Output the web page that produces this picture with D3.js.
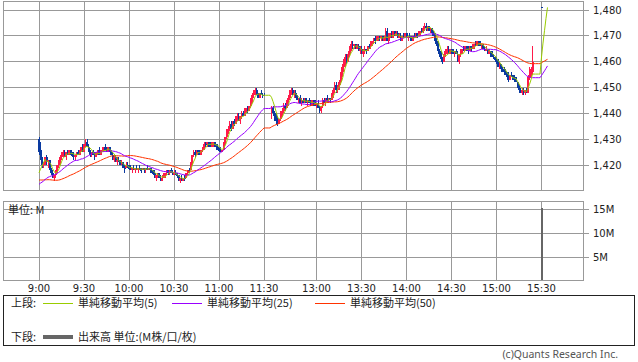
<!DOCTYPE html>
<html>
<head>
<meta charset="utf-8">
<script src="https://cdn.jsdelivr.net/npm/d3@7"></script>
<style>
  body { margin: 0; background: #fff; }
  svg text { font-family: "DejaVu Sans", sans-serif; font-size: 10px; fill: #222; }
  svg text.jp { font-family: "Noto Sans CJK JP", sans-serif; font-size: 11px; }
</style>
</head>
<body>
<div id="chart"></div>
<script>
// 1-minute bars, morning session 9:00-11:30
var amOpen = [
  1430,1426,1422,1420,1421,1423,1421,1422,1418,1417,
  1415,1416,1418,1420,1421,1423,1424,1425,1423,1425,
  1424,1426,1424,1424,1423,1424,1425,1424,1426,1427,
  1425,1428,1429,1427,1425,1424,1425,1424,1423,1425,
  1426,1424,1425,1426,1427,1426,1425,1427,1426,1424,
  1422,1423,1421,1422,1421,1420,1421,1419,1419,1420,
  1419,1419,1418,1419,1418,1419,1418,1419,1418,1418,
  1419,1418,1419,1418,1419,1418,1417,1417,1415,1416,
  1417,1415,1414,1415,1416,1417,1418,1417,1418,1417,
  1416,1417,1416,1416,1414,1415,1414,1415,1415,1417,
  1418,1418,1421,1424,1425,1424,1426,1425,1424,1426,
  1427,1428,1428,1429,1428,1427,1428,1429,1428,1427,
  1426,1426,1425,1426,1429,1431,1433,1434,1436,1434,
  1437,1436,1438,1439,1437,1439,1440,1439,1441,1442,
  1441,1443,1445,1447,1448,1449,1447,1446,1448,1447,
  1447
];
var amHigh = [
  1431,1429,1423,1421,1423,1424,1422,1422,1419,1418,
  1416,1418,1420,1422,1424,1425,1426,1426,1425,1426,
  1426,1426,1425,1425,1424,1425,1426,1426,1427,1428,
  1428,1430,1430,1428,1426,1425,1426,1425,1425,1426,
  1427,1426,1427,1427,1428,1427,1427,1427,1426,1425,
  1424,1424,1423,1423,1422,1422,1421,1420,1421,1421,
  1420,1420,1419,1420,1419,1420,1419,1420,1419,1419,
  1419,1419,1420,1419,1419,1419,1418,1418,1416,1417,
  1417,1416,1416,1417,1417,1418,1418,1418,1419,1418,
  1418,1418,1417,1416,1415,1416,1415,1416,1417,1418,
  1419,1421,1424,1426,1426,1426,1426,1426,1426,1427,
  1429,1429,1429,1429,1429,1429,1429,1429,1428,1428,
  1427,1427,1426,1429,1431,1434,1435,1437,1437,1437,
  1438,1439,1440,1440,1439,1441,1441,1442,1442,1443,
  1443,1446,1448,1449,1450,1450,1448,1448,1449,1448,
  1448
];
var amLow = [
  1424,1422,1419,1419,1420,1420,1419,1418,1416,1415,
  1414,1415,1417,1419,1420,1422,1423,1423,1422,1424,
  1424,1424,1423,1422,1422,1423,1424,1424,1425,1425,
  1425,1427,1427,1425,1423,1423,1424,1422,1423,1424,
  1424,1424,1425,1425,1426,1425,1425,1425,1424,1422,
  1421,1421,1420,1421,1420,1420,1419,1417,1419,1419,
  1418,1418,1417,1418,1417,1418,1417,1418,1417,1418,
  1417,1417,1418,1418,1417,1417,1416,1415,1414,1415,
  1415,1414,1414,1415,1415,1416,1416,1416,1417,1416,
  1416,1416,1415,1414,1413,1414,1414,1414,1415,1416,
  1417,1418,1420,1423,1423,1424,1424,1424,1424,1425,
  1426,1427,1427,1427,1427,1427,1427,1427,1426,1426,
  1425,1425,1425,1426,1428,1430,1432,1433,1433,1434,
  1435,1436,1437,1437,1436,1438,1439,1439,1440,1440,
  1441,1442,1444,1446,1447,1447,1446,1446,1447,1446,
  1447
];
var amClose = [
  1425,1422,1420,1421,1423,1421,1422,1418,1417,1415,
  1416,1418,1420,1421,1423,1424,1425,1423,1425,1424,
  1426,1424,1424,1423,1424,1425,1424,1426,1427,1425,
  1428,1429,1427,1425,1424,1425,1424,1423,1425,1426,
  1424,1425,1426,1427,1426,1425,1427,1426,1424,1422,
  1423,1421,1422,1421,1420,1421,1419,1419,1420,1419,
  1419,1418,1419,1418,1419,1418,1419,1418,1418,1419,
  1418,1419,1418,1419,1418,1417,1417,1415,1416,1417,
  1415,1414,1415,1416,1417,1418,1417,1418,1417,1416,
  1417,1416,1416,1414,1415,1414,1415,1415,1417,1418,
  1418,1421,1424,1425,1424,1426,1425,1424,1426,1427,
  1428,1428,1429,1428,1427,1428,1429,1428,1427,1426,
  1426,1425,1426,1429,1431,1433,1434,1436,1434,1437,
  1436,1438,1439,1437,1439,1440,1439,1441,1442,1441,
  1443,1445,1447,1448,1449,1447,1446,1448,1447,1447,
  1447
];

// 1-minute bars, afternoon session 12:30-15:24
var pmOpen = [
  1440,1442,1440,1438,1437,1436,1438,1440,1441,1443,
  1442,1444,1446,1448,1449,1447,1448,1446,1445,1446,
  1444,1445,1444,1446,1444,1445,1444,1443,1445,1444,
  1443,1444,1442,1441,1443,1445,1444,1446,1445,1446,
  1445,1447,1449,1451,1449,1450,1452,1455,1458,1460,
  1462,1460,1463,1465,1467,1466,1467,1465,1466,1464,
  1465,1463,1464,1465,1464,1466,1466,1467,1468,1469,
  1468,1469,1470,1469,1470,1468,1469,1472,1468,1470,
  1471,1469,1472,1470,1471,1469,1470,1468,1470,1469,
  1471,1469,1470,1469,1468,1470,1469,1471,1470,1471,
  1472,1472,1473,1474,1473,1474,1472,1473,1471,1471,
  1468,1467,1464,1463,1461,1460,1463,1464,1465,1463,
  1465,1464,1463,1464,1463,1460,1463,1464,1465,1464,
  1466,1465,1464,1466,1465,1466,1467,1466,1468,1467,
  1466,1467,1465,1464,1465,1463,1464,1463,1462,1461,
  1461,1460,1458,1459,1457,1457,1456,1455,1455,1453,
  1455,1454,1454,1453,1452,1450,1449,1448,1449,1448,
  1449,1448,1454,1455,1456
];
var pmHigh = [
  1443,1443,1441,1440,1439,1438,1441,1442,1444,1444,
  1445,1447,1449,1450,1450,1449,1449,1447,1446,1447,
  1446,1446,1446,1446,1445,1446,1445,1445,1445,1445,
  1444,1445,1443,1443,1446,1446,1446,1447,1446,1446,
  1448,1450,1452,1452,1451,1453,1456,1459,1461,1463,
  1463,1464,1466,1468,1468,1467,1467,1467,1467,1466,
  1466,1465,1466,1465,1466,1467,1468,1468,1469,1470,
  1470,1470,1470,1470,1470,1470,1473,1473,1471,1471,
  1472,1472,1472,1472,1472,1471,1471,1470,1471,1471,
  1471,1470,1471,1470,1470,1471,1471,1471,1472,1472,
  1473,1474,1475,1475,1474,1474,1473,1473,1472,1471,
  1469,1468,1465,1464,1462,1464,1465,1466,1466,1465,
  1465,1465,1464,1465,1464,1463,1465,1465,1466,1466,
  1466,1466,1466,1466,1467,1467,1468,1468,1468,1468,
  1467,1467,1466,1466,1465,1465,1464,1464,1463,1462,
  1462,1461,1460,1459,1458,1458,1457,1456,1456,1455,
  1456,1455,1455,1454,1452,1451,1450,1450,1450,1449,
  1450,1455,1458,1458,1466
];
var pmLow = [
  1438,1439,1437,1436,1435,1436,1437,1439,1440,1441,
  1442,1443,1445,1447,1447,1446,1446,1445,1444,1444,
  1443,1444,1444,1444,1443,1444,1443,1443,1443,1443,
  1442,1442,1440,1440,1442,1444,1443,1444,1444,1444,
  1445,1446,1448,1448,1448,1449,1451,1454,1456,1458,
  1459,1460,1462,1464,1465,1465,1465,1465,1464,1463,
  1463,1462,1463,1463,1464,1465,1465,1466,1467,1467,
  1468,1468,1468,1468,1468,1468,1468,1468,1467,1469,
  1469,1469,1470,1470,1469,1469,1468,1468,1469,1469,
  1469,1468,1469,1468,1468,1469,1469,1469,1470,1470,
  1471,1471,1472,1472,1472,1472,1471,1470,1470,1467,
  1466,1463,1462,1460,1459,1460,1462,1463,1463,1463,
  1463,1463,1462,1463,1460,1459,1462,1463,1464,1464,
  1464,1463,1464,1464,1465,1465,1466,1466,1466,1466,
  1465,1465,1464,1464,1463,1463,1462,1462,1461,1460,
  1459,1458,1457,1456,1456,1455,1455,1453,1452,1453,
  1454,1453,1452,1452,1450,1448,1448,1447,1447,1447,
  1448,1448,1453,1454,1455
];
var pmClose = [
  1442,1440,1438,1437,1436,1438,1440,1441,1443,1442,
  1444,1446,1448,1449,1447,1448,1446,1445,1446,1444,
  1445,1444,1446,1444,1445,1444,1443,1445,1444,1443,
  1444,1442,1441,1443,1445,1444,1446,1445,1446,1445,
  1447,1449,1451,1449,1450,1452,1455,1458,1460,1462,
  1460,1463,1465,1467,1466,1467,1465,1466,1464,1465,
  1463,1464,1465,1464,1466,1466,1467,1468,1469,1468,
  1469,1470,1469,1470,1468,1469,1472,1468,1470,1471,
  1469,1472,1470,1471,1469,1470,1468,1470,1469,1471,
  1469,1470,1469,1468,1470,1469,1471,1470,1471,1472,
  1472,1473,1474,1473,1474,1472,1473,1471,1471,1468,
  1467,1464,1463,1461,1460,1463,1464,1465,1463,1465,
  1464,1463,1464,1463,1460,1463,1464,1465,1464,1466,
  1465,1464,1466,1465,1466,1467,1466,1468,1467,1466,
  1467,1465,1464,1465,1463,1464,1463,1462,1461,1461,
  1460,1458,1459,1457,1457,1456,1455,1454,1453,1455,
  1454,1453,1453,1452,1450,1449,1448,1449,1448,1449,
  1448,1454,1457,1457,1460
];

var closingAuction = 1481;               // 15:30
var postCloses = [1481, 1481, 1481, 1481]; // carried after the close, MA only

// previous day's last closes, only used to seed the moving averages
var prevCloses = [
  1420,1421,1419,1420,1421,1420,1419,1420,1419,1418,1419,1420,1418,1417,
  1414,1413,1412,1411,1411,1410,1411,1412,1411,1410,
  1409,1410,1411,1410,1409,1410,1411,1412,1411,1410,
  1411,1412,1411,1412,1413,1412,1411,1412,1413,1413,1414,
  1415,1414,1415,1416
];

var volTimes = ["9:00", "15:30"];
var volValues = [0.3, 15.3];   // M shares

var tickTimes = ["9:00","9:30","10:00","10:30","11:00","11:30","13:00","13:30","14:00","14:30","15:00","15:30"];
var priceTicks = [1420, 1430, 1440, 1450, 1460, 1470, 1480];
var volTicks = [5, 10, 15];
var maPeriods = [50, 25, 5];
var maColors = {5: "#99cc00", 25: "#9900ff", 50: "#ff3300"};
var maLabels = ["単純移動平均(5)", "単純移動平均(25)", "単純移動平均(50)"];

var upColor = "#ff1a4a";
var downColor = "#0a3aa0";
var gridColor = "#999";

// time -> minute slot (lunch break compressed to a few empty slots)
var lunchGap = 4;
function slotOf(t) {
  var p = t.split(":");
  var m = (+p[0]) * 60 + (+p[1]);
  return m <= 690 ? m - 540 : m - 750 + 151 + lunchGap;
}

var svgWidth = 638, svgHeight = 362;
var plotLeft = 3, plotRight = 583;
var priceTop = 1, priceBottom = 190;
var volTop = 201, volBottom = 280;

var svg = d3.select("#chart")
  .append("svg")
  .attr("width", svgWidth)
  .attr("height", svgHeight);

var x = d3.scaleLinear().domain([-24, 363]).range([plotLeft, plotRight + 0.5]);
var y = d3.scaleLinear().domain([1420, 1480]).range([165, 10]);
var yVol = d3.scaleLinear().domain([0, 15]).range([281, 209]);

// build bars
var bars = [];
amClose.forEach(function(c, i) {
  bars.push({slot: slotOf("9:00") + i, o: amOpen[i], h: amHigh[i], l: amLow[i], c: c});
});
pmClose.forEach(function(c, i) {
  bars.push({slot: slotOf("12:30") + i, o: pmOpen[i], h: pmHigh[i], l: pmLow[i], c: c});
});
bars.push({slot: slotOf("15:30"), o: closingAuction, h: closingAuction, l: closingAuction, c: closingAuction});

var closeAt = {};
bars.forEach(function(d) { closeAt[d.slot] = d.c; });
var lastSlot = slotOf("15:30");
postCloses.forEach(function(c, i) { closeAt[lastSlot + 1 + i] = c; });
var endSlot = lastSlot + postCloses.length;

function movingAverage(n) {
  var hist = prevCloses.slice();
  var out = [];
  var cur = null;
  for (var s = 0; s <= endSlot; s++) {
    if (closeAt[s] != null) {
      hist.push(closeAt[s]);
      cur = d3.mean(hist.slice(-n));
    }
    out.push([s, cur]);
  }
  return out;
}

// grid: price panel
var grid = svg.append("g").attr("shape-rendering", "crispEdges").attr("stroke", gridColor).attr("fill", "none");

priceTicks.forEach(function(p) {
  grid.append("line").attr("x1", plotLeft).attr("x2", plotRight + 6)
    .attr("y1", y(p)).attr("y2", y(p));
});
volTicks.forEach(function(v) {
  grid.append("line").attr("x1", plotLeft).attr("x2", plotRight + 6)
    .attr("y1", yVol(v)).attr("y2", yVol(v));
});
tickTimes.forEach(function(t) {
  var xx = x(slotOf(t));
  grid.append("line").attr("x1", xx).attr("x2", xx).attr("y1", priceTop).attr("y2", priceBottom);
  grid.append("line").attr("x1", xx).attr("x2", xx).attr("y1", volTop).attr("y2", volBottom);
});
grid.append("rect").attr("x", plotLeft).attr("y", priceTop)
  .attr("width", plotRight - plotLeft).attr("height", priceBottom - priceTop);
grid.append("rect").attr("x", plotLeft).attr("y", volTop)
  .attr("width", plotRight - plotLeft).attr("height", volBottom - volTop);

// candles
var candles = svg.append("g").attr("shape-rendering", "crispEdges");
candles.selectAll("line.wick")
  .data(bars)
  .enter()
  .append("line")
  .attr("class", "wick")
  .attr("x1", d => x(d.slot))
  .attr("x2", d => x(d.slot))
  .attr("y1", d => y(d.h))
  .attr("y2", d => y(d.l))
  .attr("stroke", d => d.c > d.o ? upColor : downColor)
  .attr("stroke-width", 1);

candles.selectAll("rect.body")
  .data(bars)
  .enter()
  .append("rect")
  .attr("class", "body")
  .attr("x", d => x(d.slot) - 1)
  .attr("width", 2)
  .attr("y", d => y(Math.max(d.o, d.c)))
  .attr("height", d => Math.max(1, Math.abs(y(d.o) - y(d.c))))
  .attr("fill", d => d.c > d.o ? upColor : downColor);

// moving averages
var line = d3.line().x(d => x(d[0])).y(d => y(d[1]));
maPeriods.forEach(function(n) {
  svg.append("path")
    .datum(movingAverage(n))
    .attr("d", line)
    .attr("fill", "none")
    .attr("stroke", maColors[n])
    .attr("stroke-width", 1);
});

// volume
svg.append("g").selectAll("rect")
  .data(volTimes)
  .enter()
  .append("rect")
  .attr("shape-rendering", "crispEdges")
  .attr("x", d => x(slotOf(d)) - 1)
  .attr("width", 2)
  .attr("y", (d, i) => yVol(volValues[i]))
  .attr("height", (d, i) => yVol(0) - yVol(volValues[i]) - 1)
  .attr("fill", "#666");

// axis labels
var labels = svg.append("g");
priceTicks.forEach(function(p) {
  labels.append("text").attr("x", 593).attr("y", y(p)).attr("dy", "0.35em")
    .text(d3.format(",")(p));
});
volTicks.forEach(function(v) {
  labels.append("text").attr("x", 593).attr("y", yVol(v)).attr("dy", "0.35em")
    .text(v + "M");
});
tickTimes.forEach(function(t) {
  labels.append("text").attr("x", x(slotOf(t))).attr("y", 288).attr("dy", "0.35em")
    .attr("text-anchor", "middle").text(t);
});
labels.append("text").attr("class", "jp").attr("x", 8).attr("y", 210).attr("dy", "0.35em")
  .text("単位: M");

// legend
var legend = svg.append("g");
legend.append("rect").attr("x", 3.5).attr("y", 295.5).attr("width", 631).attr("height", 50)
  .attr("fill", "none").attr("stroke", "#222").attr("shape-rendering", "crispEdges");
legend.append("text").attr("class", "jp").attr("x", 11).attr("y", 303).attr("dy", "0.35em").text("上段:");
legend.append("text").attr("class", "jp").attr("x", 11).attr("y", 337).attr("dy", "0.35em").text("下段:");

var legendX = [43, 172, 315];
[5, 25, 50].forEach(function(n, i) {
  legend.append("line").attr("x1", legendX[i]).attr("x2", legendX[i] + 30)
    .attr("y1", 303.5).attr("y2", 303.5).attr("stroke", maColors[n]);
  legend.append("text").attr("class", "jp").attr("x", legendX[i] + 35).attr("y", 303)
    .attr("dy", "0.35em").text(maLabels[i]);
});
legend.append("line").attr("x1", 43).attr("x2", 73).attr("y1", 337).attr("y2", 337)
  .attr("stroke", "#666").attr("stroke-width", 4);
legend.append("text").attr("class", "jp").attr("x", 78).attr("y", 337).attr("dy", "0.35em")
  .text("出来高 単位:(M株/口/枚)");

svg.append("text").attr("x", 618).attr("y", 354).attr("dy", "0.35em")
  .attr("text-anchor", "end")
  .style("font-family", "'Noto Sans', sans-serif")
  .style("font-size", "10.5px")
  .style("fill", "#555")
  .text("(c)Quants Research Inc.");
</script>
</body>
</html>
